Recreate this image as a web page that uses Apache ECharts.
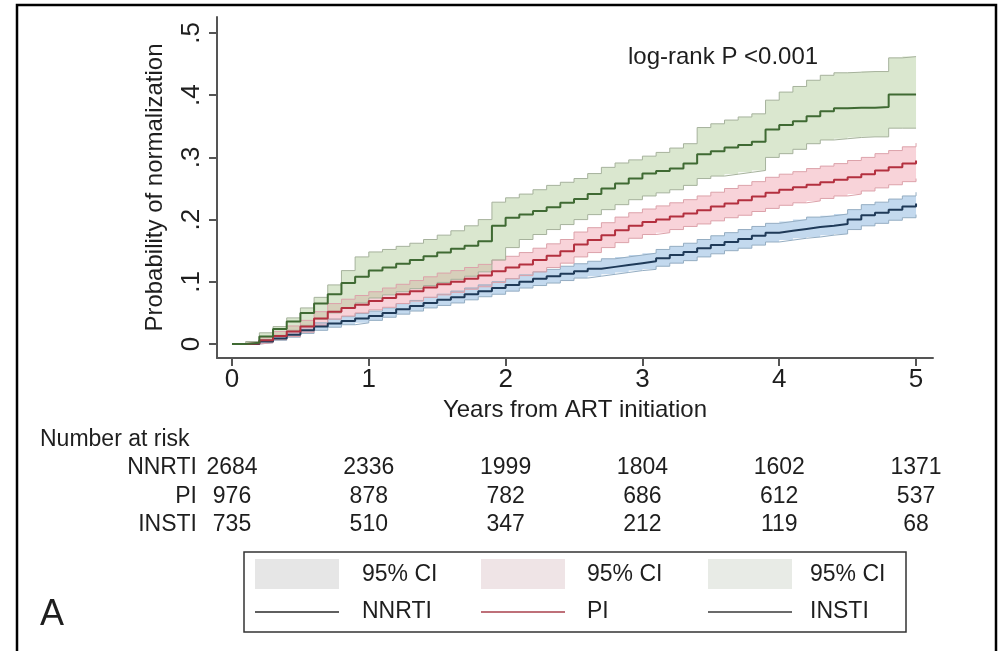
<!DOCTYPE html>
<html>
<head>
<meta charset="utf-8">
<script src="https://cdn.jsdelivr.net/npm/echarts@6/dist/echarts.min.js"></script>
<style>
  html, body { margin: 0; padding: 0; background: #fff; }
  #chart { width: 1000px; height: 651px; }
</style>
</head>
<body>
<div id="chart"></div>
<script>
// ---------- data ----------
const years = [0,0.1,0.2,0.3,0.4,0.5,0.6,0.7,0.8,0.9,1.0,1.1,1.2,1.3,1.4,1.5,1.6,1.7,1.8,1.9,2.0,
  2.1,2.2,2.3,2.4,2.5,2.6,2.7,2.8,2.9,3.0,3.1,3.2,3.3,3.4,3.5,3.6,3.7,3.8,3.9,4.0,
  4.1,4.2,4.3,4.4,4.5,4.6,4.7,4.8,4.9,5.0];

const nnrti = [0,0,0.004,0.009,0.015,0.022,0.028,0.033,0.037,0.041,0.045,
  0.05,0.056,0.061,0.066,0.071,0.075,0.08,0.085,0.09,0.095,
  0.1,0.105,0.109,0.113,0.117,0.121,0.124,0.127,0.13,0.133,
  0.138,0.143,0.148,0.154,0.159,0.164,0.169,0.174,0.179,0.182,
  0.185,0.188,0.19,0.193,0.2,0.207,0.211,0.216,0.221,0.226];
const nnrtiUpper = [0,0.001,0.007,0.013,0.02,0.028,0.034,0.04,0.044,0.049,0.053,
  0.058,0.065,0.07,0.075,0.08,0.085,0.09,0.095,0.1,0.105,
  0.111,0.116,0.12,0.125,0.129,0.133,0.137,0.14,0.143,0.146,
  0.152,0.157,0.162,0.168,0.174,0.179,0.184,0.189,0.194,0.197,
  0.2,0.204,0.206,0.209,0.216,0.224,0.228,0.233,0.238,0.244];
const nnrtiLower = [0,0,0.002,0.006,0.011,0.017,0.022,0.027,0.031,0.034,0.038,
  0.043,0.048,0.053,0.058,0.062,0.066,0.071,0.076,0.08,0.085,
  0.09,0.094,0.098,0.102,0.106,0.109,0.112,0.115,0.118,0.12,
  0.125,0.13,0.134,0.14,0.145,0.15,0.154,0.159,0.164,0.167,
  0.17,0.172,0.175,0.177,0.184,0.19,0.194,0.199,0.203,0.208];

const pi = [0,0.001,0.006,0.013,0.02,0.028,0.041,0.052,0.058,0.063,0.069,
  0.074,0.08,0.085,0.091,0.096,0.1,0.105,0.11,0.117,0.123,
  0.128,0.135,0.142,0.149,0.16,0.167,0.175,0.183,0.19,0.196,
  0.2,0.205,0.21,0.215,0.221,0.226,0.231,0.237,0.243,0.248,
  0.252,0.256,0.26,0.264,0.268,0.273,0.279,0.284,0.29,0.295];
const piUpper = [0,0.003,0.011,0.02,0.029,0.038,0.052,0.065,0.072,0.078,0.084,
  0.09,0.096,0.102,0.108,0.114,0.118,0.123,0.128,0.135,0.141,
  0.147,0.154,0.161,0.168,0.18,0.187,0.195,0.204,0.211,0.217,
  0.222,0.227,0.232,0.238,0.244,0.25,0.255,0.261,0.268,0.273,
  0.277,0.282,0.286,0.29,0.295,0.3,0.306,0.311,0.317,0.323];
const piLower = [0,0,0.002,0.007,0.012,0.019,0.03,0.04,0.045,0.05,0.055,
  0.059,0.065,0.069,0.075,0.079,0.083,0.088,0.092,0.099,0.105,
  0.11,0.116,0.123,0.13,0.14,0.147,0.155,0.163,0.17,0.176,
  0.179,0.184,0.189,0.193,0.198,0.203,0.207,0.213,0.218,0.223,
  0.227,0.23,0.234,0.238,0.241,0.246,0.251,0.256,0.261,0.266];

const insti = [0,0.002,0.012,0.024,0.036,0.05,0.065,0.08,0.098,0.108,0.118,
  0.123,0.129,0.135,0.141,0.147,0.153,0.158,0.165,0.19,0.203,
  0.208,0.214,0.22,0.227,0.233,0.241,0.25,0.258,0.266,0.274,
  0.278,0.282,0.29,0.305,0.31,0.316,0.32,0.325,0.345,0.352,
  0.358,0.366,0.374,0.379,0.38,0.38,0.381,0.401,0.401,0.401];
const instiUpper = [0,0.004,0.018,0.028,0.042,0.058,0.075,0.095,0.118,0.14,0.148,
  0.152,0.157,0.162,0.168,0.175,0.182,0.19,0.2,0.228,0.235,
  0.241,0.248,0.255,0.26,0.266,0.274,0.284,0.291,0.296,0.302,
  0.308,0.315,0.322,0.348,0.354,0.36,0.365,0.37,0.392,0.405,
  0.414,0.424,0.432,0.436,0.437,0.438,0.438,0.46,0.462,0.462];
const instiLower = [0,0,0.006,0.014,0.022,0.03,0.04,0.05,0.058,0.066,0.074,
  0.079,0.084,0.089,0.094,0.099,0.104,0.109,0.116,0.135,0.155,
  0.168,0.176,0.184,0.192,0.2,0.208,0.216,0.224,0.232,0.238,
  0.243,0.248,0.255,0.266,0.27,0.273,0.276,0.279,0.3,0.306,
  0.313,0.322,0.328,0.33,0.332,0.333,0.333,0.347,0.347,0.347];

const xTicks = [0,1,2,3,4,5];
const yTicks = [0,0.1,0.2,0.3,0.4,0.5];
const groupNames = ['NNRTI','PI','INSTI'];
const atRisk = {
  NNRTI: [2684,2336,1999,1804,1602,1371],
  PI:    [976,878,782,686,612,537],
  INSTI: [735,510,347,212,119,68]
};

// ---------- styling ----------
const FONT = '"Liberation Sans", Arial, sans-serif';
const TXT = '#1e1e1e';
const groups = [
  {name:'NNRTI', line:nnrti, up:nnrtiUpper, lo:nnrtiLower, color:'#1f3a58', fill:'rgba(135,180,222,0.5)', edge:'#94adc2'},
  {name:'PI', line:pi, up:piUpper, lo:piLower, color:'#b3303f', fill:'rgba(238,150,165,0.42)', edge:'#dca2aa'},
  {name:'INSTI', line:insti, up:instiUpper, lo:instiLower, color:'#3f6a33', fill:'rgba(172,202,148,0.45)', edge:'#a6b29c'}
];

function stepBand(g) {
  return function (params, api) {
    const pts = [];
    const n = years.length;
    for (let i = 0; i < n; i++) {
      pts.push(api.coord([years[i], g.up[i]]));
      if (i < n - 1) pts.push(api.coord([years[i + 1], g.up[i]]));
    }
    for (let i = n - 1; i >= 0; i--) {
      if (i < n - 1) pts.push(api.coord([years[i + 1], g.lo[i]]));
      pts.push(api.coord([years[i], g.lo[i]]));
    }
    return {type:'polygon', shape:{points:pts}, style:{fill:g.fill, stroke:null}};
  };
}

const series = [];
groups.forEach(g => {
  series.push({
    type:'custom', name:g.name+' CI', renderItem: stepBand(g),
    data:[[0, 0]], silent:true, z:1, clip:true
  });
});
groups.forEach(g => {
  ['lo','up'].forEach(k => {
    series.push({
      type:'line', name:g.name+' '+k, step:'end', symbol:'none',
      data: years.map((t,i)=>[t, g[k][i]]),
      lineStyle:{color:g.edge, width:1}, silent:true, z:2
    });
  });
});
groups.forEach(g => {
  series.push({
    type:'line', name:g.name, step:'end', symbol:'none',
    data: years.map((t,i)=>[t, g.line[i]]),
    lineStyle:{color:g.color, width:2}, silent:true, z:3
  });
});

const chart = echarts.init(document.getElementById('chart'), null, {renderer:'canvas'});
const axisCol = '#555';
chart.setOption({
  animation:false,
  backgroundColor:'#fff',
  grid:{left:217, top:17, width:716, height:341, containLabel:false},
  xAxis:{
    type:'value', min:-0.1096, max:5.124,
    axisLine:{onZero:false, lineStyle:{color:axisCol, width:2}},
    axisTick:{customValues:xTicks, length:8, lineStyle:{color:axisCol, width:2}},
    axisLabel:{customValues:xTicks, fontSize:26, color:TXT, fontFamily:FONT, margin:9},
    splitLine:{show:false},
    name:'Years from ART initiation', nameLocation:'middle', nameGap:40,
    nameTextStyle:{fontSize:24, color:TXT, fontFamily:FONT}
  },
  yAxis:{
    type:'value', min:-0.0225, max:0.5257,
    axisLine:{onZero:false, lineStyle:{color:axisCol, width:2}},
    axisTick:{customValues:yTicks, length:8, lineStyle:{color:axisCol, width:2}},
    axisLabel:{customValues:yTicks, rotate:90, fontSize:26, color:TXT, fontFamily:FONT, margin:12,
      formatter: v => v === 0 ? '0' : '.' + Math.round(v*10)},
    splitLine:{show:false},
    name:'Probability of normalization', nameLocation:'middle', nameGap:50, nameRotate:90,
    nameTextStyle:{fontSize:24, color:TXT, fontFamily:FONT}
  },
  series: series
});

// ---------- annotations, risk table, legend ----------
const gfx = [];
gfx.push({type:'rect', shape:{x:17, y:5, width:979, height:700}, style:{fill:'none', stroke:'#000', lineWidth:2.5}, z:100});
gfx.push({type:'text', style:{text:'log-rank P <0.001', x:628, y:57, font:'24px '+FONT, fill:TXT, verticalAlign:'middle'}, z:100});
gfx.push({type:'text', style:{text:'Number at risk', x:40, y:440, font:'23px '+FONT, fill:TXT, verticalAlign:'middle'}, z:100});
const rowY = [468, 497, 525];
groupNames.forEach((nm, r) => {
  gfx.push({type:'text', style:{text:nm, x:197, y:rowY[r], font:'23px '+FONT, fill:TXT, align:'right', verticalAlign:'middle'}, z:100});
  atRisk[nm].forEach((v, c) => {
    const px = chart.convertToPixel({xAxisIndex:0}, xTicks[c]);
    gfx.push({type:'text', style:{text:String(v), x:px, y:rowY[r], font:'23px '+FONT, fill:TXT, align:'center', verticalAlign:'middle'}, z:100});
  });
});
gfx.push({type:'rect', shape:{x:244, y:552, width:662, height:80}, style:{fill:'#fff', stroke:'#333', lineWidth:1.5}, z:100});
const legX = [255, 481, 708];
const legTxtX = [362, 587, 810];
const swatch = ['#e6e6e6', '#efe4e6', '#e8ebe6'];
const legLine = ['#2a2a2a', '#a8404c', '#3a3a3a'];
for (let k = 0; k < 3; k++) {
  gfx.push({type:'rect', shape:{x:legX[k], y:559, width:84, height:30}, style:{fill:swatch[k]}, z:101});
  gfx.push({type:'text', style:{text:'95% CI', x:legTxtX[k], y:575, font:'23px '+FONT, fill:TXT, verticalAlign:'middle'}, z:101});
  gfx.push({type:'line', shape:{x1:legX[k], y1:612, x2:legX[k]+84, y2:612}, style:{stroke:legLine[k], lineWidth:1.5}, z:101});
  gfx.push({type:'text', style:{text:groupNames[k], x:legTxtX[k], y:612, font:'23px '+FONT, fill:TXT, verticalAlign:'middle'}, z:101});
}
gfx.push({type:'text', style:{text:'A', x:40, y:615, font:'36px '+FONT, fill:TXT, verticalAlign:'middle'}, z:100});

chart.setOption({graphic: gfx});
</script>
</body>
</html>
